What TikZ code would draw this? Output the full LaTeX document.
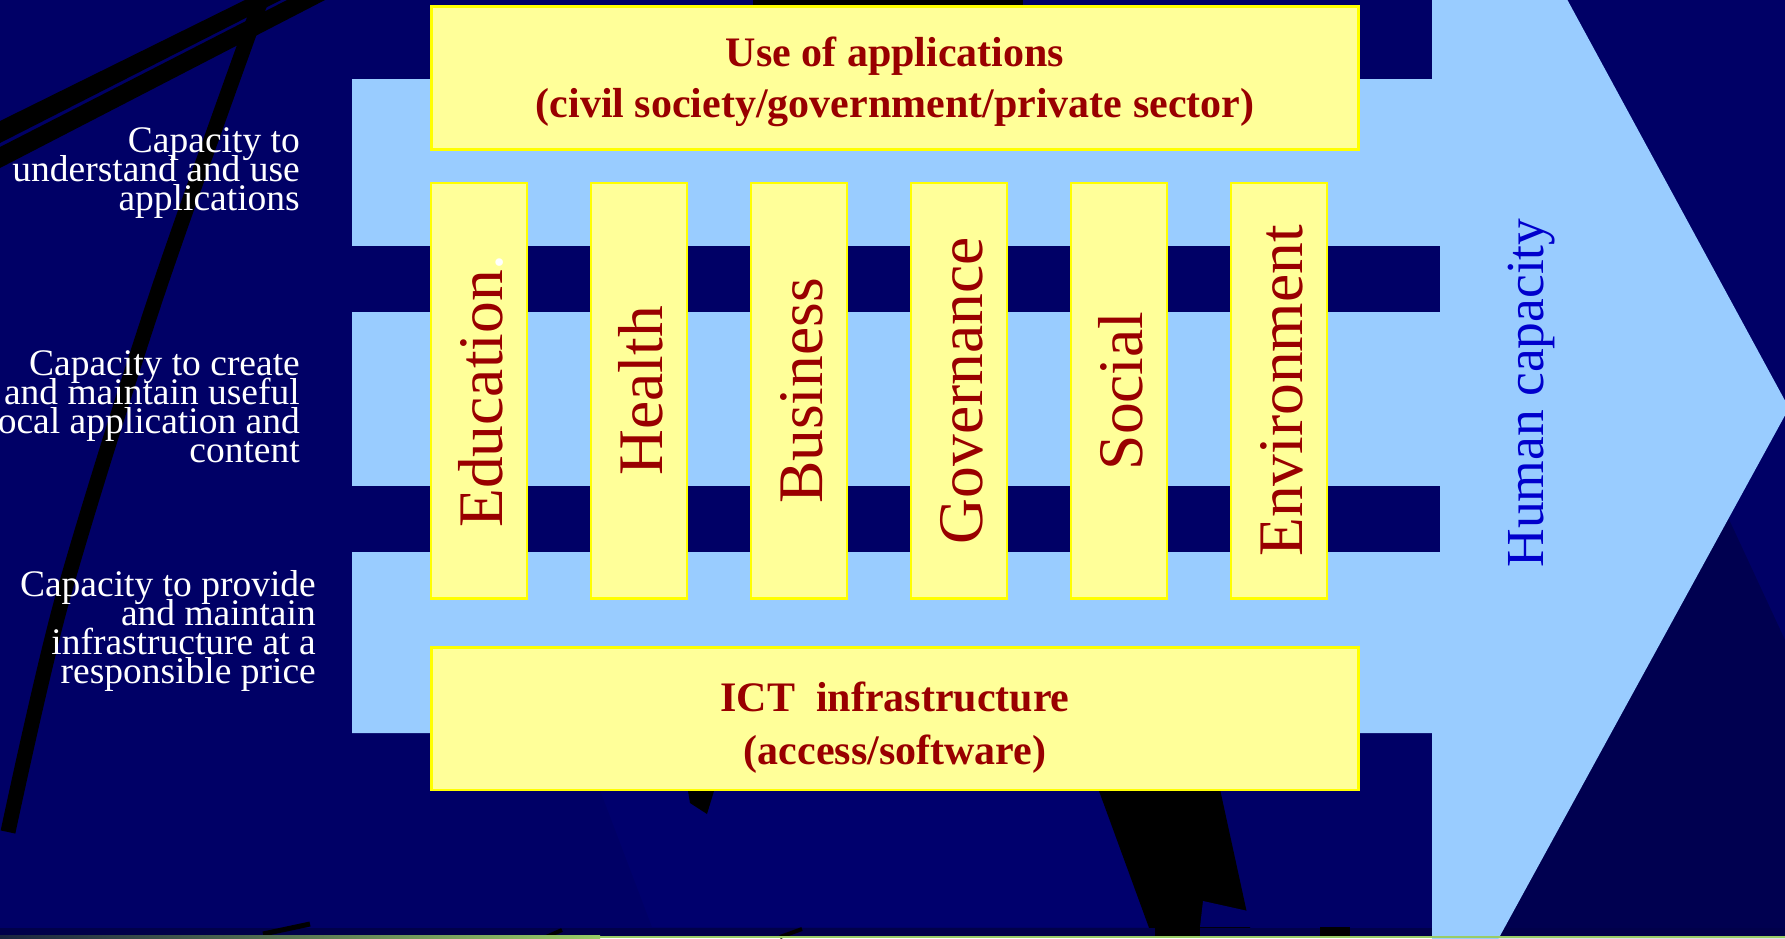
\documentclass[tikz,border=0pt]{standalone}
\usepackage{fontspec}
\setmainfont{Liberation Serif}
\usetikzlibrary{calc}

\definecolor{navy}{HTML}{000066}
\definecolor{navylight}{HTML}{00006D}
\definecolor{navydeep}{HTML}{000050}
\definecolor{navystrip}{HTML}{00004A}
\definecolor{skyblue}{HTML}{99CCFF}
\definecolor{paleyellow}{HTML}{FFFF99}
\definecolor{brightyellow}{HTML}{FFFF00}
\definecolor{darkred}{HTML}{990000}
\definecolor{capblue}{HTML}{0000CC}
\definecolor{stripgreen}{HTML}{99CC66}
\definecolor{stripdark}{HTML}{1A2440}

% tight line spacing for the level captions
\newcommand{\levelfont}{\fontsize{37.5}{29}\selectfont\lineskiplimit=-100pt\relax}

\begin{document}
\begin{tikzpicture}[x=1pt,y=-1pt,
  panel/.style={draw=brightyellow, line width=2.6pt, fill=paleyellow, inner sep=0pt, outer sep=0pt},
  colbox/.style={panel, minimum width=96pt, minimum height=415.7pt},
  widebox/.style={panel, minimum width=927pt, minimum height=142.5pt},
  coltext/.style={rotate=90, anchor=base, inner sep=0pt, text=darkred,
    font=\fontsize{63.5}{70}\selectfont},
  titletext/.style={anchor=north, align=center, inner sep=0pt, text=darkred},
  sidelabel/.style={anchor=north east, align=right, inner sep=0pt, text=white,
    font=\levelfont},
  humantext/.style={rotate=90, anchor=base, inner sep=0pt, text=capblue,
    font=\fontsize{53.5}{60}\selectfont},
  blackbar/.style={draw=black, line width=15pt, line cap=butt}
]
\useasboundingbox (0,0) rectangle (1785,938);

% ---- slide background ----
\fill[navy] (0,0) rectangle (1785,938);
\fill[navylight] (600,790) -- (1098,790) -- (1155,927) -- (652,927) -- cycle;
\fill[navydeep] (1720,500) -- (1785,640) -- (1785,938) -- (1480,938) -- cycle;

% black strokes of the background art
\fill[black] (0,121) -- (245,0) -- (281,0) -- (0,143) -- cycle;
\fill[black] (0,147) -- (287,0) -- (325,0) -- (0,168) -- cycle;
\draw[blackbar] plot[smooth] coordinates {(263,-5) (155,300) (62,600) (8,832)};
\fill[black] (753,0) rectangle (1023,12);
\fill[black] (1095,780) -- (1218,780) -- (1252,936) -- (1152,936) -- cycle;
\fill[navy] (1203,901) -- (1320,927) -- (1200,927) -- cycle;
\fill[black] (688,791) -- (714,791) -- (707,814) -- (690,803) -- cycle;

% dark strip and small marks along the lower edge
\fill[navystrip] (0,927.5) rectangle (1785,935.5);
\draw[black, line width=5pt] (263,934) -- (310,924);
\draw[black, line width=4pt] (546,937) -- (562,930);
\draw[black, line width=4pt] (780,937) -- (802,929);
\fill[black] (1155,927) rectangle (1200,936);
\fill[black] (1320,927) rectangle (1350,936);

% ---- big arrow: human capacity ----
\fill[skyblue] (352,79) -- (1432,79) -- (1432,-10) -- (1562,-10) -- (1789,408)
  -- (1495,945) -- (1432,945) -- (1432,733) -- (352,733) -- cycle;
\fill[navy] (352,245.5) rectangle (1440,311.5);
\fill[navy] (352,485.5) rectangle (1440,551.5);

% ---- application layer ----
\node[widebox] (apps) at (895,78) {};
\node[titletext, font=\bfseries\fontsize{42}{51}\selectfont] (appstext)
  at ($(apps.north)+(0,29.5)$) {Use of applications\\(civil society/government/private sector)};

% ---- sector columns ----
\foreach \sector [count=\i from 0] in {{Education{\color{white}.}},Health,Business,Governance,Social,Environment} {
  \node[colbox] (col\i) at (479+160*\i,390.9) {};
  \node[coltext] (coltext\i) at ($(col\i.center)+(23.5,0)$) {\sector};
}

% ---- infrastructure layer ----
\node[widebox] (ict) at (895,718.8) {};
\node[titletext, font=\bfseries\fontsize{42}{53}\selectfont] (icttext)
  at ($(ict.north)+(0,34.5)$) {ICT\ \ infrastructure\\(access/software)};

% ---- arrow label ----
\node[humantext] (human) at (1543,393) {Human capacity};

% ---- capacity levels on the left ----
\node[sidelabel] (lvlapps) at (300,127) {Capacity to\\understand and use\\applications};
\node[sidelabel] (lvlcontent) at (300,350.6) {Capacity to create\\and maintain useful\\local application and\\content};
\node[sidelabel] (lvlinfra) at (316,570) {Capacity to provide\\and maintain\\infrastructure at a\\responsible price};

% ---- footer line ----
\fill[left color=stripdark, right color=stripgreen] (0,935.5) rectangle (600,938);
\fill[stripgreen] (600,935.5) rectangle (1785,938);
\end{tikzpicture}
\end{document}
